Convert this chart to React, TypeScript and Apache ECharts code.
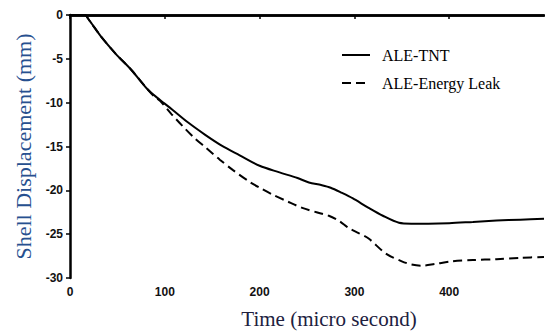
import React, { useEffect, useRef } from "react";
import * as echarts from "echarts";

const xTicks = [0, 100, 200, 300, 400, 500];
const yTicks = [0, -5, -10, -15, -20, -25, -30];

const tntTime = [0, 16, 19, 23, 33, 48, 65, 82, 95, 108, 125, 143, 160, 179, 200, 221, 240, 252, 265, 275, 287, 298, 315, 330, 347, 360, 378, 400, 425, 450, 475, 500];
const tntVal = [0, 0, -0.4, -1.0, -2.5, -4.4, -6.3, -8.5, -9.7, -10.8, -12.3, -13.7, -14.9, -16.0, -17.2, -17.95, -18.6, -19.1, -19.4, -19.7, -20.3, -20.9, -22.0, -22.9, -23.7, -23.8, -23.8, -23.75, -23.6, -23.45, -23.35, -23.25];

const energyTime = [0, 16, 19, 23, 33, 48, 65, 82, 89, 95, 107, 119, 131, 144, 158, 172, 189, 200, 214, 230, 245, 260, 273, 284, 294, 305, 315, 333, 350, 360, 371, 385, 403, 425, 450, 475, 500];
const energyVal = [0, 0, -0.4, -1.0, -2.5, -4.4, -6.3, -8.5, -9.3, -9.8, -11.3, -12.7, -14.0, -15.2, -16.5, -17.7, -19.0, -19.7, -20.5, -21.3, -22.0, -22.5, -22.9, -23.5, -24.3, -24.9, -25.5, -27.2, -28.1, -28.45, -28.6, -28.4, -28.1, -27.95, -27.85, -27.7, -27.6];

const seriesNames = ["ALE-TNT", "ALE-Energy Leak"];

export default function App() {
  const ref = useRef<HTMLDivElement>(null);
  useEffect(() => {
    if (!ref.current) return;
    const chart = echarts.init(ref.current, null, { renderer: "svg" });
    const axisLine = { show: true, lineStyle: { color: "#000", width: 2.5 } };
    chart.setOption({
      animation: false,
      backgroundColor: "#fff",
      grid: { left: 70, right: 1, top: 15, bottom: 53, outerBoundsMode: "none", containLabel: false },
      legend: {
        orient: "vertical",
        left: 336,
        top: 42,
        itemWidth: 28,
        itemHeight: 14,
        itemGap: 12,
        data: seriesNames,
        itemStyle: { color: "rgba(0,0,0,0)", borderColor: "rgba(0,0,0,0)", borderWidth: 0 },
        textStyle: {
          fontFamily: "Liberation Serif",
          fontSize: 16,
          color: "#000",
          padding: [0, 0, 0, 7],
        },
      },
      xAxis: [
        {
          type: "value",
          min: xTicks[0],
          max: xTicks[xTicks.length - 1],
          interval: 100,
          name: "Time (micro second)",
          nameLocation: "middle",
          nameGap: 30,
          nameTextStyle: {
            fontFamily: "Liberation Serif",
            fontSize: 21,
            color: "#20203e",
            padding: [0, 0, 0, 44],
          },
          axisLine,
          axisTick: { show: true, length: 4, lineStyle: { color: "#000", width: 1.5 } },
          axisLabel: {
            showMaxLabel: false,
            margin: 8,
            fontFamily: "Liberation Sans",
            fontWeight: "bold",
            fontSize: 12,
            color: "#111",
          },
          splitLine: { show: false },
        },
        {
          type: "value",
          position: "top",
          min: xTicks[0],
          max: xTicks[xTicks.length - 1],
          axisLine,
          axisTick: { show: false },
          axisLabel: { show: false },
          splitLine: { show: false },
        },
      ],
      yAxis: {
        type: "value",
        min: yTicks[yTicks.length - 1],
        max: yTicks[0],
        interval: 5,
        name: "Shell Displacement (mm)",
        nameLocation: "middle",
        nameGap: 35,
        nameTextStyle: {
          fontFamily: "Liberation Serif",
          fontSize: 22,
          color: "#27508f",
        },
        axisLine,
        axisTick: { show: true, length: 4, lineStyle: { color: "#000", width: 1.5 } },
        axisLabel: {
          margin: 7,
          fontFamily: "Liberation Sans",
          fontWeight: "bold",
          fontSize: 12,
          color: "#111",
        },
        splitLine: { show: false },
      },
      series: [
        {
          name: seriesNames[0],
          type: "line",
          xAxisIndex: 0,
          symbol: "none",
          symbolSize: 0,
          smooth: 0.3,
          data: tntTime.map((t, i) => [t, tntVal[i]]),
          lineStyle: { color: "#000", width: 2 },
          itemStyle: { color: "#000" },
        },
        {
          name: seriesNames[1],
          type: "line",
          xAxisIndex: 0,
          symbol: "none",
          symbolSize: 0,
          smooth: 0.3,
          data: energyTime.map((t, i) => [t, energyVal[i]]),
          lineStyle: { color: "#000", width: 2, type: [9, 5] },
          itemStyle: { color: "#000" },
        },
      ],
    });
    return () => chart.dispose();
  }, []);
  return (
    <div
      ref={ref}
      style={{ position: "fixed", left: 0, top: 0, width: 545, height: 331, background: "#fff" }}
    />
  );
}
